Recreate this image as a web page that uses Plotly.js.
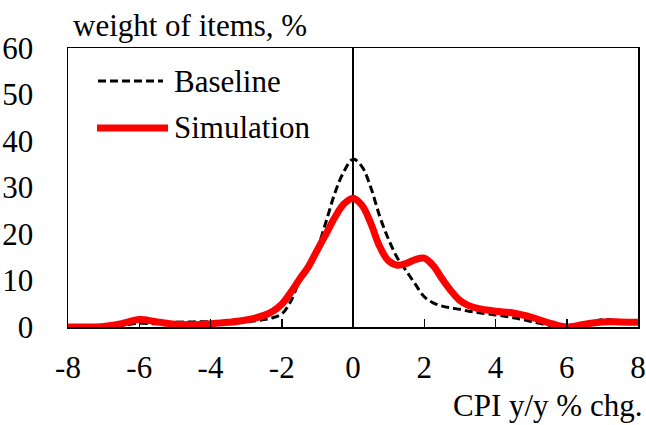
<!DOCTYPE html>
<html>
<head>
<meta charset="utf-8">
<script src="https://cdn.plot.ly/plotly-3.0.1.min.js"></script>
<style>
  html, body { margin: 0; padding: 0; background: #fff; }
  #chart { width: 646px; height: 425px; }
</style>
</head>
<body>
<div id="chart"></div>
<script>
// CPI y/y % change (x positions)
const cpiChange = [-8, -7.5, -7, -6.5, -6, -5.5, -5, -4.5, -4, -3.5, -3, -2.5, -2.25, -2, -1.75, -1.5, -1.25, -1, -0.75, -0.5, -0.25, 0, 0.25, 0.5, 0.75, 1, 1.25, 1.5, 1.75, 2, 2.25, 2.5, 2.75, 3, 3.25, 3.5, 4, 4.5, 5, 5.5, 6, 6.5, 7, 7.5, 8];
// weight of items, % — Baseline
const baseline = [0, 0, 0, 0.3, 0.8, 0.7, 1.0, 1.1, 1.1, 1.0, 1.1, 1.6, 2.0, 2.8, 5.5, 10, 13.5, 17, 22.8, 29, 33.5, 36.1, 34.5, 30, 23.8, 18.8, 14.8, 12, 9.2, 6.5, 5.2, 4.5, 4.1, 3.8, 3.4, 3.1, 2.6, 2.0, 1.2, 0.4, 0, 0.4, 1.6, 1.2, 0.8];
// weight of items, % — Simulation
const simulation = [0, 0, 0.1, 0.7, 1.6, 1.1, 0.6, 0.5, 0.7, 1.0, 1.5, 2.5, 3.4, 4.9, 7.4, 10.3, 13, 16.6, 20.1, 23.7, 26.5, 27.7, 26.2, 22.3, 17.3, 14.2, 13.3, 13.7, 14.5, 14.8, 13.2, 10.4, 7.8, 5.7, 4.6, 4.0, 3.4, 3.0, 2.1, 0.9, 0, 0.6, 1.1, 1.1, 1.0];
// tick labels
const xTickVals = [-8, -6, -4, -2, 0, 2, 4, 6, 8];
const xTickText = ['-8', '-6', '-4', '-2', '0', '2', '4', '6', '8'];
const seriesNames = ['Baseline', 'Simulation'];
const yTitle = 'weight of items, %';
const xTitle = 'CPI y/y % chg.';

const FONT = '"Liberation Serif", "Times New Roman", Times, serif';
const FS = 31;

const traces = [
  {
    x: cpiChange, y: baseline, name: seriesNames[0], type: 'scatter', mode: 'lines',
    line: { color: '#000000', width: 3, dash: '8px,4px', shape: 'spline', smoothing: 1 },
    showlegend: false, hoverinfo: 'skip'
  },
  {
    x: cpiChange, y: simulation, name: seriesNames[1], type: 'scatter', mode: 'lines',
    line: { color: '#ff0000', width: 7, shape: 'spline', smoothing: 1 },
    showlegend: false, hoverinfo: 'skip'
  }
];

const layout = {
  width: 646, height: 425,
  margin: { l: 68, r: 8, t: 48, b: 98 },
  paper_bgcolor: '#ffffff', plot_bgcolor: '#ffffff',
  font: { family: FONT, size: FS, color: '#000000' },
  showlegend: false,
  xaxis: {
    range: [-8, 8], tickvals: xTickVals, ticktext: xTickText,
    ticks: 'inside', ticklen: 8, tickwidth: 1.5, tickcolor: '#000',
    showline: true, linecolor: '#000', linewidth: 1.5, mirror: true,
    zeroline: true, zerolinecolor: '#000', zerolinewidth: 1.5,
    showgrid: false, tickfont: { family: FONT, size: FS, color: '#000' },
    ticklabelstandoff: 12, fixedrange: true
  },
  yaxis: {
    range: [0, 60], tickvals: [0, 10, 20, 30, 40, 50, 60],
    ticks: '', showline: true, linecolor: '#000', linewidth: 1.5, mirror: true,
    zeroline: false, showgrid: false, tickfont: { family: FONT, size: FS, color: '#000' },
    ticklabelstandoff: 27, fixedrange: true
  },
  shapes: [
    { type: 'line', xref: 'paper', yref: 'paper', x0: 0.0526, x1: 0.1667, y0: 0.8817, y1: 0.8817,
      line: { color: '#000', width: 3, dash: '8px,4px' } },
    { type: 'line', xref: 'paper', yref: 'paper', x0: 0.0509, x1: 0.1754, y0: 0.7133, y1: 0.7133,
      line: { color: '#ff0000', width: 7 } }
  ],
  annotations: [
    { text: seriesNames[0], xref: 'paper', yref: 'paper', x: 0.1825, y: 0.8817,
      xanchor: 'left', yanchor: 'middle', showarrow: false, font: { family: FONT, size: FS } },
    { text: seriesNames[1], xref: 'paper', yref: 'paper', x: 0.1825, y: 0.7133,
      xanchor: 'left', yanchor: 'middle', showarrow: false, font: { family: FONT, size: FS } },
    { text: yTitle, xref: 'paper', yref: 'paper', x: 0.005, y: 1,
      xanchor: 'left', yanchor: 'bottom', yshift: 3, showarrow: false, font: { family: FONT, size: FS } },
    { text: xTitle, xref: 'paper', yref: 'paper', x: 1, y: 0,
      xanchor: 'right', yanchor: 'top', xshift: 6, yshift: -59, showarrow: false, font: { family: FONT, size: FS } }
  ]
};

Plotly.newPlot('chart', traces, layout, { displayModeBar: false, staticPlot: true });
</script>
</body>
</html>
